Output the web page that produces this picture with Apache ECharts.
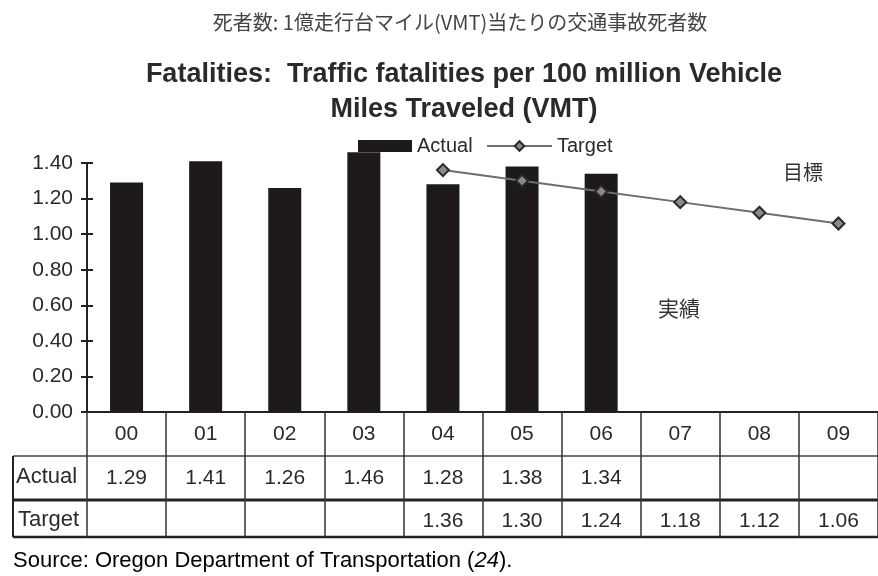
<!DOCTYPE html>
<html>
<head>
<meta charset="utf-8">
<script src="https://cdn.jsdelivr.net/npm/echarts@6/dist/echarts.min.js"></script>
<style>
  html, body { margin: 0; padding: 0; background: #fff; }
  #main { width: 878px; height: 576px; }
</style>
</head>
<body>
<div id="main"></div>
<script>
  // data
  var years = ['00', '01', '02', '03', '04', '05', '06', '07', '08', '09'];
  var actual = [1.29, 1.41, 1.26, 1.46, 1.28, 1.38, 1.34, null, null, null];
  var target = [null, null, null, null, 1.36, 1.30, 1.24, 1.18, 1.12, 1.06];
  var yMin = 0, yMax = 1.4, yStep = 0.2;

  var font = "'Liberation Sans', Arial, sans-serif";
  var jpFont = "'Noto Sans CJK JP', sans-serif";
  var ink = '#2a2a2a';

  function cell(arr) {
    return function (v, i) {
      return arr[i] == null ? '' : arr[i].toFixed(2);
    };
  }

  var myChart = echarts.init(document.getElementById('main'));
  myChart.setOption({
    animation: false,
    backgroundColor: '#fff',
    title: [
      {
        text: '死者数: 1億走行台マイル(VMT)当たりの交通事故死者数',
        left: 455, top: 7, textAlign: 'center',
        textStyle: { fontFamily: jpFont, fontSize: 20, fontWeight: 'normal', color: '#444' }
      },
      {
        text: 'Fatalities:  Traffic fatalities per 100 million Vehicle\nMiles Traveled (VMT)',
        left: 459, top: 52, textAlign: 'center',
        textStyle: { fontFamily: font, fontSize: 27, fontWeight: 'bold', color: ink, lineHeight: 35 }
      }
    ],
    legend: [
      {
        data: [{ name: 'Actual', icon: 'rect' }],
        left: 353, top: 131,
        itemWidth: 54, itemHeight: 12,
        textStyle: { fontFamily: font, fontSize: 20, color: ink }
      },
      {
        data: ['Target'],
        left: 481, top: 131,
        itemWidth: 65, itemHeight: 12,
        textStyle: { fontFamily: font, fontSize: 20, color: ink }
      }
    ],
    grid: { left: 87, top: 163, width: 800, height: 249 },
    xAxis: [
      {
        type: 'category',
        data: years,
        axisLine: { lineStyle: { color: '#222', width: 2 } },
        axisTick: { show: true, interval: 0, length: 125, lineStyle: { color: '#333', width: 1.5 } },
        axisLabel: { interval: 0, margin: 12, fontFamily: font, fontSize: 21, color: ink }
      },
      {
        type: 'category',
        data: years,
        position: 'bottom',
        offset: 44,
        axisLine: { show: false },
        axisTick: { show: false },
        axisLabel: { interval: 0, margin: 12, fontFamily: font, fontSize: 21, color: ink, formatter: cell(actual) }
      },
      {
        type: 'category',
        data: years,
        position: 'bottom',
        offset: 87,
        axisLine: { show: false },
        axisTick: { show: false },
        axisLabel: { interval: 0, margin: 12, fontFamily: font, fontSize: 21, color: ink, formatter: cell(target) }
      }
    ],
    yAxis: [
      {
        type: 'value',
        min: yMin, max: yMax, interval: yStep,
        axisLine: { show: true, lineStyle: { color: '#222', width: 2 } },
        axisTick: { show: true, length: 6, lineStyle: { color: '#222', width: 2 } },
        splitLine: { show: false },
        axisLabel: {
          margin: 14, fontFamily: font, fontSize: 21, color: ink,
          formatter: function (v) { return v.toFixed(2); }
        }
      },
      {
        type: 'value',
        position: 'left',
        min: yMin, max: yMax, interval: yStep,
        axisLine: { show: false },
        axisTick: { show: true, inside: true, length: 6, lineStyle: { color: '#222', width: 2 } },
        splitLine: { show: false },
        axisLabel: { show: false }
      }
    ],
    series: [
      {
        name: 'Actual',
        type: 'bar',
        data: actual,
        barWidth: 33,
        clip: false,
        itemStyle: { color: '#1f1a1a' }
      },
      {
        name: 'Target',
        type: 'line',
        data: target,
        z: 5,
        symbol: 'diamond',
        symbolSize: 12,
        lineStyle: { color: '#6e6e6e', width: 2 },
        itemStyle: { color: '#8a8a8a', borderColor: '#2a2a2a', borderWidth: 2 }
      }
    ],
    graphic: [
      // table rules under the plot
      { type: 'line', shape: { x1: 13, y1: 456, x2: 878, y2: 456 }, style: { stroke: '#444', lineWidth: 1.5 } },
      { type: 'line', shape: { x1: 13, y1: 500, x2: 878, y2: 500 }, style: { stroke: '#222', lineWidth: 3 } },
      { type: 'line', shape: { x1: 13, y1: 537, x2: 878, y2: 537 }, style: { stroke: '#222', lineWidth: 2.5 } },
      { type: 'line', shape: { x1: 13, y1: 456, x2: 13, y2: 537 }, style: { stroke: '#222', lineWidth: 2 } },
      { type: 'text', left: 16, top: 466, style: { text: 'Actual', font: '22px ' + font, fill: ink } },
      { type: 'text', left: 18, top: 509, style: { text: 'Target', font: '22px ' + font, fill: ink } },
      // notes
      { type: 'text', left: 783, top: 162, style: { text: '目標', font: '20px ' + jpFont, fill: '#333' } },
      { type: 'text', left: 658, top: 298, style: { text: '実績', font: '21px ' + jpFont, fill: '#333' } },
      {
        type: 'text', left: 13, top: 550,
        style: {
          text: '{a|Source: Oregon Department of Transportation (}{b|24}{a|).}',
          rich: {
            a: { fontFamily: font, fontSize: 22, color: '#333' },
            b: { fontFamily: font, fontSize: 22, fontStyle: 'italic', color: '#333' }
          }
        }
      }
    ]
  });
</script>
</body>
</html>
